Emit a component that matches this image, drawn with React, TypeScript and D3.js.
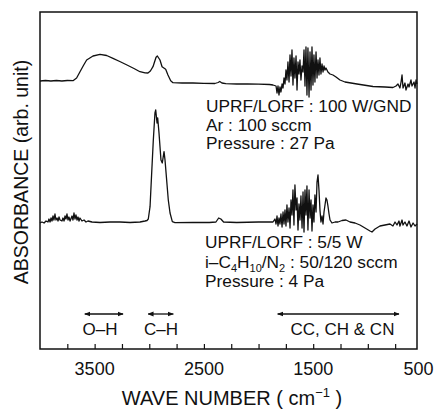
import * as d3 from 'd3';
import { useEffect, useRef } from 'react';

// [wave number (cm-1), absorbance (arb.)]
const upperSpectrum: [number, number][] = [
  [4000, 268], [3950, 268.5], [3900, 268], [3850, 268.5], [3800, 268], [3750, 268.5], [3698, 268.3],
  [3665, 271], [3634, 277.3], [3600, 284], [3573, 289], [3515, 293], [3451, 294.7], [3390, 293.5],
  [3332, 290.7], [3270, 287.5], [3204, 284], [3140, 280.5], [3085, 277.3], [3039, 276.2], [3012, 276],
  [2990, 278], [2966, 282.3], [2938, 291.7], [2926, 293], [2902, 289], [2883, 282.3], [2850, 279.7],
  [2829, 274], [2804, 268.3], [2783, 266.3], [2700, 266], [2600, 266], [2500, 265.7], [2400, 265.5],
  [2370, 266.5], [2355, 267.5], [2335, 266], [2300, 265.3], [2200, 265], [2100, 265], [2000, 264.8],
  [1900, 264.5], [1868, 264],
  [1840, 263], [1831, 256], [1822, 263], [1813, 254], [1804, 262], [1795, 257], [1785, 265], [1776, 261],
  [1767, 271], [1758, 265], [1749, 279], [1740, 269], [1731, 287], [1721, 267], [1712, 294], [1703, 273],
  [1694, 299], [1685, 264], [1676, 291], [1667, 271], [1657, 293], [1648, 259], [1639, 287], [1630, 275],
  [1621, 289], [1612, 269], [1602, 283], [1593, 277], [1584, 299], [1575, 263], [1566, 302], [1557, 254],
  [1548, 301], [1538, 252], [1529, 297], [1520, 259], [1511, 302], [1502, 264], [1493, 294], [1484, 267],
  [1474, 297], [1465, 271], [1456, 289], [1447, 274], [1438, 291], [1429, 275], [1419, 285], [1410, 277],
  [1401, 283], [1392, 279], [1383, 281], [1365, 277], [1346, 275], [1319, 274], [1291, 272], [1255, 269],
  [1209, 267], [1099, 265], [953, 262.5], [843, 262], [770, 261.5],
  [742, 263], [724, 265], [706, 261], [696, 267], [687, 274], [678, 261], [660, 266], [651, 259],
  [632, 265], [623, 262], [605, 269], [596, 263], [577, 267], [568, 261], [559, 269], [550, 265],
];

const lowerSpectrum: [number, number][] = [
  [4000, 126], [3982, 127], [3963, 126], [3945, 128], [3927, 127], [3918, 130], [3908, 127], [3899, 131],
  [3890, 128], [3881, 133], [3872, 129], [3863, 135], [3854, 129], [3844, 131], [3835, 128], [3826, 132],
  [3817, 129], [3799, 128], [3790, 131], [3780, 128], [3771, 133], [3762, 130], [3753, 135], [3744, 129],
  [3735, 132], [3725, 128], [3707, 133], [3698, 129], [3689, 136], [3680, 130], [3671, 134], [3661, 129],
  [3652, 132], [3643, 128], [3634, 131], [3616, 128], [3597, 129], [3579, 127], [3561, 128], [3524, 127],
  [3451, 126.5], [3359, 127], [3268, 127], [3176, 126.5], [3085, 127], [3039, 128], [3021, 128.5],
  [3009, 130], [2993, 142.3], [2978, 176], [2963, 209], [2948, 236], [2941, 239], [2929, 226], [2923, 231],
  [2911, 216], [2893, 189], [2881, 186], [2865, 197.3], [2856, 189], [2841, 169], [2826, 149], [2810, 136],
  [2789, 127.3], [2765, 126.3], [2600, 126.5], [2450, 126.5], [2390, 127], [2365, 131], [2345, 130],
  [2320, 127], [2200, 126.5], [2000, 127], [1900, 127], [1868, 127],
  [1850, 130], [1840, 125], [1831, 133], [1822, 123], [1813, 131], [1804, 125], [1795, 135], [1785, 122],
  [1776, 137], [1767, 125], [1758, 139], [1749, 123], [1740, 144], [1731, 127], [1721, 141], [1712, 121],
  [1703, 149], [1694, 134], [1685, 159], [1676, 124], [1667, 164], [1657, 139], [1648, 151], [1639, 119],
  [1630, 145], [1621, 129], [1612, 153], [1602, 121], [1593, 157], [1584, 117], [1575, 159], [1566, 134],
  [1557, 163], [1548, 119], [1538, 159], [1529, 131], [1520, 149], [1511, 118], [1502, 144], [1493, 127],
  [1484, 154], [1474, 137], [1465, 167], [1456, 174], [1447, 159], [1438, 139], [1429, 127], [1419, 133],
  [1410, 125], [1401, 137], [1392, 144], [1383, 151], [1374, 149], [1365, 143], [1355, 135], [1346, 129],
  [1328, 126], [1300, 127], [1273, 127], [1236, 128.5], [1200, 129], [1163, 127], [1117, 126], [1072, 124],
  [1026, 121], [980, 118], [962, 117], [934, 120], [889, 123], [843, 124], [797, 125],
  [770, 123], [751, 127], [733, 124], [715, 128], [706, 123], [687, 129], [678, 124], [660, 127],
  [642, 123], [623, 128], [605, 122], [586, 126], [568, 123], [550, 125],
];

const minorTicks = [3750, 3500, 3250, 3000, 2750, 2500, 2250, 2000, 1750, 1500, 1250, 1000, 750];
const tickLabels = [3500, 2500, 1500, 500];

const upperNotes = ['UPRF/LORF : 100 W/GND', 'Ar : 100 sccm', 'Pressure : 27 Pa'];
// each line is a list of [text, isSubscript]
const lowerNotes: [string, boolean][][] = [
  [['UPRF/LORF : 5/5 W', false]],
  [['i–C', false], ['4', true], ['H', false], ['10', true], ['/N', false], ['2', true], [' : 50/120 sccm', false]],
  [['Pressure : 4 Pa', false]],
];

const bands = [
  { label: 'O–H', from: 3590, to: 3240, at: 3450 },
  { label: 'C–H', from: 3010, to: 2780, at: 2893 },
  { label: 'CC, CH & CN', from: 1825, to: 715, at: 1232 },
];

const FONT = '"Liberation Sans", Arial, Helvetica, sans-serif';

function App() {
  const ref = useRef<SVGSVGElement>(null);

  useEffect(() => {
    const svg = d3.select(ref.current);
    svg.selectAll('*').remove();

    const W = 435;
    const left = 40;
    const right = 417;
    const top = 12;
    const bottom = 349;

    const x = d3.scaleLinear().domain([4000, 550]).range([left, right]);
    const y = d3.scaleLinear().domain([0, 339]).range([bottom, 10]);

    svg.append('defs').append('marker')
      .attr('id', 'head')
      .attr('viewBox', '0 0 10 10')
      .attr('refX', 9)
      .attr('refY', 5)
      .attr('markerWidth', 6)
      .attr('markerHeight', 6)
      .attr('orient', 'auto-start-reverse')
      .attr('markerUnits', 'userSpaceOnUse')
      .append('path')
      .attr('d', 'M0,1 L10,5 L0,9 Z')
      .attr('fill', '#111');

    // frame
    svg.append('rect')
      .attr('x', left)
      .attr('y', top)
      .attr('width', right - left)
      .attr('height', bottom - top)
      .attr('fill', 'none')
      .attr('stroke', '#111')
      .attr('stroke-width', 1.5);

    // bottom ticks (inward)
    const axis = svg.append('g')
      .attr('transform', `translate(0,${bottom})`)
      .call(d3.axisBottom(x).tickValues(minorTicks).tickSizeInner(-5).tickSizeOuter(0).tickFormat(() => ''));
    axis.select('.domain').remove();
    axis.selectAll('line').attr('stroke', '#111').attr('stroke-width', 1.2);

    svg.append('g')
      .selectAll('text')
      .data(tickLabels)
      .enter()
      .append('text')
      .attr('y', 375)
      .attr('text-anchor', 'middle')
      .attr('font-family', FONT)
      .attr('font-size', 18)
      .attr('fill', '#111')
      .text((d) => d)
      .attr('x', function (d) {
        const half = (this as SVGTextElement).getComputedTextLength() / 2;
        return Math.min(x(d), W - 1.5 - half);
      });

    // axis titles
    const xt = svg.append('text')
      .attr('x', 232)
      .attr('y', 405)
      .attr('text-anchor', 'middle')
      .attr('font-family', FONT)
      .attr('font-size', 20)
      .attr('fill', '#111');
    xt.append('tspan').text('WAVE NUMBER ( cm');
    xt.append('tspan').attr('dy', -8).attr('font-size', 13).text('−1');
    xt.append('tspan').attr('dy', 8).text(' )');

    svg.append('text')
      .attr('transform', 'translate(28,172) rotate(-90)')
      .attr('text-anchor', 'middle')
      .attr('font-family', FONT)
      .attr('font-size', 19.5)
      .attr('fill', '#111')
      .text('ABSORBANCE (arb. unit)');

    // spectra
    const line = d3.line<[number, number]>()
      .x((d) => x(d[0]))
      .y((d) => y(d[1]));

    [upperSpectrum, lowerSpectrum].forEach((s) => {
      svg.append('path')
        .datum(s)
        .attr('d', line)
        .attr('fill', 'none')
        .attr('stroke', '#111')
        .attr('stroke-width', 1.3)
        .attr('stroke-linejoin', 'round');
    });

    // condition notes
    upperNotes.forEach((t, i) => {
      svg.append('text')
        .attr('x', 206)
        .attr('y', 112 + i * 18.6)
        .attr('font-family', FONT)
        .attr('font-size', 17.3)
        .attr('fill', '#111')
        .text(t);
    });

    lowerNotes.forEach((parts, i) => {
      const t = svg.append('text')
        .attr('x', 205)
        .attr('y', 248 + i * 19.5)
        .attr('font-family', FONT)
        .attr('font-size', 17.3)
        .attr('fill', '#111');
      let sub = false;
      parts.forEach(([txt, isSub]) => {
        const dy = isSub === sub ? 0 : (isSub ? 4 : -4);
        t.append('tspan')
          .attr('dy', dy)
          .attr('font-size', isSub ? 11 : 17.3)
          .text(txt);
        sub = isSub;
      });
    });

    // band markers
    const bandY = 314;
    bands.forEach((b) => {
      svg.append('line')
        .attr('x1', x(b.from))
        .attr('x2', x(b.to))
        .attr('y1', bandY)
        .attr('y2', bandY)
        .attr('stroke', '#111')
        .attr('stroke-width', 1.3)
        .attr('marker-start', 'url(#head)')
        .attr('marker-end', 'url(#head)');
      svg.append('text')
        .attr('x', x(b.at))
        .attr('y', 335)
        .attr('text-anchor', 'middle')
        .attr('font-family', FONT)
        .attr('font-size', 17)
        .attr('fill', '#111')
        .text(b.label);
    });
  }, []);

  return (
    <svg
      ref={ref}
      width={435}
      height={414}
      style={{ position: 'absolute', left: 0, top: 0, background: '#fff' }}
    />
  );
}

export default App;
